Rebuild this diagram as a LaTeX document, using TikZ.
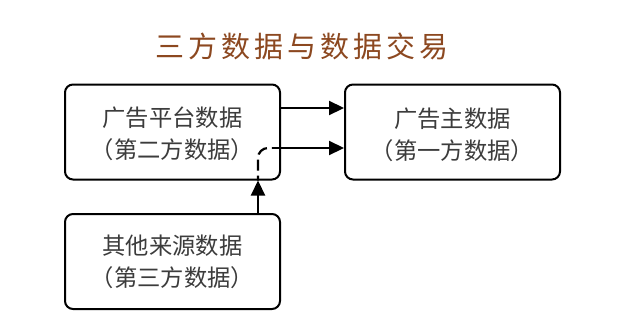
\documentclass[tikz,border=0pt]{standalone}
\usepackage{fontspec}
\newfontfamily\cjk{Noto Sans CJK SC}
\newfontfamily\cjktitle[LetterSpace=14]{Noto Sans CJK SC}
\usetikzlibrary{arrows.meta}
\definecolor{titlebrown}{RGB}{140,72,32}
\definecolor{txtgray}{RGB}{60,60,60}
\tikzset{
  databox/.style={draw=black, line width=2pt, rounded corners=8pt, fill=white,
    minimum width=215pt, minimum height=95pt, inner sep=0pt},
  boxtext/.style={align=center, text=txtgray, font=\cjk\fontsize{23.3}{32}\selectfont},
  flow/.style={line width=2.2pt, -{Triangle[length=15pt,width=14pt]}},
  dashflow/.style={line width=2.2pt, dash pattern=on 11pt off 5pt, dash phase=6pt}
}
\begin{document}
\begin{tikzpicture}[x=1pt,y=-1pt]
\useasboundingbox (0,0) rectangle (620,335);
\node[text=titlebrown, font=\cjktitle\fontsize{29}{32}\selectfont] (title) at (302,46) {三方数据与数据交易};
\node[databox] (A) at (172.5,132) {};
\node[boxtext] (At) at (172.5,134) {广告平台数据\\（第二方数据）};
\node[databox] (B) at (452.5,132) {};
\node[boxtext] (Bt) at (452.5,135) {广告主数据\\（第一方数据）};
\node[databox] (C) at (172.5,261.5) {};
\node[boxtext] (Ct) at (172.5,262) {其他来源数据\\（第三方数据）};
\coordinate (k) at (258,0);
\coordinate (m) at (272,148);
\draw[flow] ([yshift=24pt]A.east) -- ([yshift=24pt]B.west);
\draw[flow] (C.north -| k) -- (A.south -| k);
\draw[dashflow, rounded corners=10pt] (A.south -| k) -- (k |- m) -- (m);
\draw[flow] (m) -- (B.west |- m);
\end{tikzpicture}
\end{document}
